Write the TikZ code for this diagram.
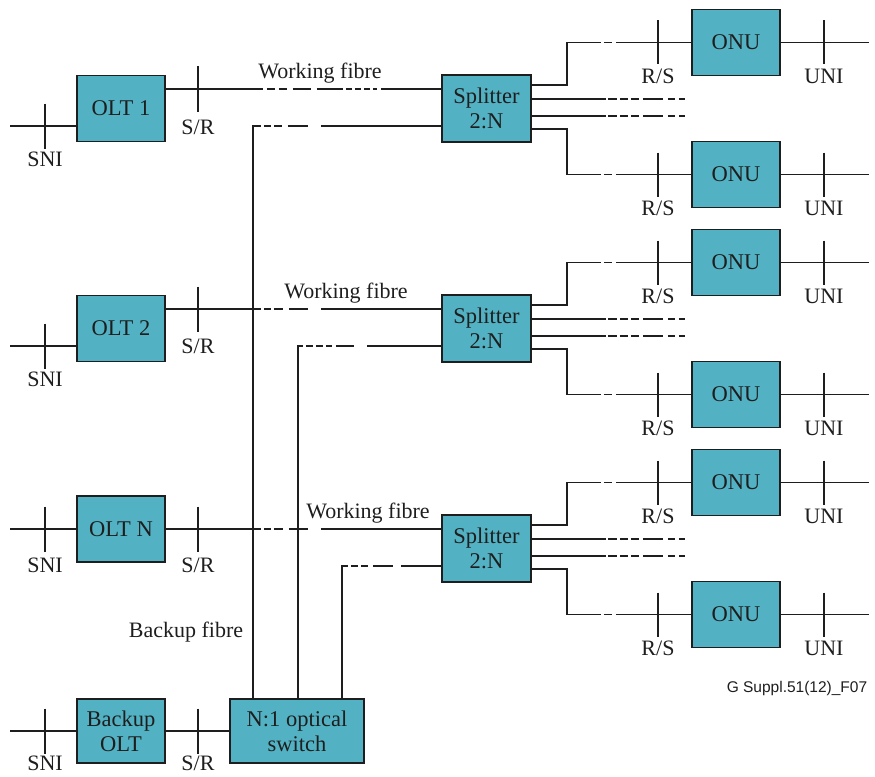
\documentclass[tikz,border=0pt]{standalone}
\usepackage{fontspec}
\setmainfont{Liberation Serif}
\newfontfamily\labsans{Liberation Sans}
\definecolor{boxfill}{RGB}{82,178,196}
\definecolor{ink}{RGB}{30,30,30}
\begin{document}
\begin{tikzpicture}[x=1pt,y=-1pt,
  box/.style={draw=ink, line width=1.8pt, fill=boxfill, inner sep=0pt, align=center,
    font=\fontsize{22.5}{25}\selectfont, text=ink, minimum width=88pt, minimum height=66pt},
  ln/.style={draw=ink, line width=1.4pt},
  lbl/.style={font=\fontsize{22}{24}\selectfont, inner sep=0pt, text=ink},
  wfa/.style={dash pattern=on 97pt off 4pt on 8pt off 4pt on 8pt off 6pt on 18pt off 6pt on 26pt off 3pt on 6pt off 3pt on 6pt off 3pt on 6pt off 3pt on 4pt off 4pt on 300pt},
  wfb/.style={dash pattern=on 95pt off 3pt on 7pt off 3pt on 9pt off 6pt on 19pt off 13pt on 300pt},
  bka/.style={dash pattern=on 580pt off 3pt on 7pt off 3pt on 8pt off 6pt on 20pt off 13pt on 300pt},
  bkb/.style={dash pattern=on 357pt off 3pt on 7pt off 3pt on 7pt off 3pt on 6pt off 4pt on 18pt off 13pt on 300pt},
  bkc/.style={dash pattern=on 138pt off 3pt on 7pt off 3pt on 7pt off 5pt on 20pt off 8pt on 300pt},
  mid/.style={dash pattern=on 74pt off 2pt on 9pt off 3pt on 8pt off 3pt on 8pt off 4pt on 20pt off 5pt on 7pt off 4pt on 7pt off 60pt},
  tick/.style={draw=ink, line width=1.4pt}]
\useasboundingbox (0,0) rectangle (875,776);

% boxes
\node[box] (olt1) at (121,108.5) {OLT 1};
\node[box] (olt2) at (121,328.5) {OLT 2};
\node[box] (oltn) at (121,529) {OLT N};
\node[box, minimum height=64pt] (bolt) at (121,731) {Backup\\OLT};
\node[box, minimum width=134pt, minimum height=64pt] (sw) at (297,731) {N:1 optical\\switch};
\node[box, minimum width=89pt, minimum height=67pt] (spl1) at (486.5,108.5) {Splitter\\2:N};
\node[box, minimum width=89pt, minimum height=67pt] (spl2) at (486.5,328.5) {Splitter\\2:N};
\node[box, minimum width=89pt, minimum height=67pt] (spl3) at (486.5,548.5) {Splitter\\2:N};
\node[box] (onu1) at (736,42.5) {ONU};
\node[box] (onu2) at (736,174.5) {ONU};
\node[box] (onu3) at (736,262.5) {ONU};
\node[box] (onu4) at (736,394.5) {ONU};
\node[box] (onu5) at (736,482.5) {ONU};
\node[box] (onu6) at (736,614.5) {ONU};

% free-end x positions
\coordinate (xL) at (10,0);
\coordinate (xR) at (869,0);
\coordinate (xM) at (685,0);

% OLT side connectors
\coordinate (o1s) at ([yshift=-17.5pt]olt1.west);
\coordinate (o2s) at ([yshift=-17.5pt]olt2.west);
\coordinate (o1w) at ([yshift=19.5pt]olt1.east);
\coordinate (o2w) at ([yshift=19.5pt]olt2.east);
\draw[ln] (o1s -| xL) -- (o1s);
\draw[ln] (o2s -| xL) -- (o2s);
\draw[ln] (oltn.west -| xL) -- (oltn.west);
\draw[ln] (bolt.west -| xL) -- (bolt.west);
\draw[ln, wfa] (o1w) -- (o1w -| spl1.west);
\draw[ln, wfb] (o2w) -- (o2w -| spl2.west);
\draw[ln, wfb] (oltn.east) -- (oltn.east -| spl3.west);
\draw[ln] (bolt.east) -- (sw.west);

% backup fibres
\draw[ln, bka] ([xshift=-44pt]sw.north) |- ([yshift=-17.5pt]spl1.west);
\draw[ln, bkb] ([xshift=1pt]sw.north) |- ([yshift=-17.5pt]spl2.west);
\draw[ln, bkc] ([xshift=45pt]sw.north) |- ([yshift=-17.5pt]spl3.west);

% splitter outputs
\foreach \i/\a/\b in {1/onu1/onu2, 2/onu3/onu4, 3/onu5/onu6}{
  \coordinate (s\i t) at ([yshift=23.5pt]spl\i.east);
  \coordinate (s\i b) at ([yshift=-20.5pt]spl\i.east);
  \coordinate (s\i m) at ([yshift=9.5pt]spl\i.east);
  \coordinate (s\i n) at ([yshift=-7.5pt]spl\i.east);
  \draw[ln, dash pattern=on 112pt off 3pt on 8pt off 4pt on 300pt] (s\i t) -- ++(35,0) |- (\a.west);
  \draw[ln, dash pattern=on 114.5pt off 3pt on 8pt off 4pt on 300pt] (s\i b) -- ++(35,0) |- (\b.west);
  \draw[ln, mid] (s\i m) -- (s\i m -| xM);
  \draw[ln, mid] (s\i n) -- (s\i n -| xM);
}
\foreach \o in {onu1,onu2,onu3,onu4,onu5,onu6}{
  \draw[ln] (\o.east) -- (\o.east -| xR);
}

% reference point ticks
\foreach \x/\y in {45/126, 198/89, 45/346, 198/309, 45/529, 198/529, 45/731, 198/731}{
  \draw[tick] (\x,\y-22.5) -- (\x,\y+22.5);
}
\foreach \c in {42.5,174.5,262.5,394.5,482.5,614.5}{
  \draw[tick] (658,\c-22) -- (658,\c+22);
  \draw[tick] (824,\c-22) -- (824,\c+22);
  \node[lbl] at (658,\c+34) {R/S};
  \node[lbl] at (824,\c+34) {UNI};
}

% labels
\node[lbl] at (45,159.5) {SNI};
\node[lbl] at (198,127) {S/R};
\node[lbl] at (45,379) {SNI};
\node[lbl] at (198,346) {S/R};
\node[lbl] at (45,565) {SNI};
\node[lbl] at (198,565) {S/R};
\node[lbl] at (45,763) {SNI};
\node[lbl] at (198,763) {S/R};
\node[lbl] at (320,73) {Working fibre};
\node[lbl] at (346,293) {Working fibre};
\node[lbl] at (368,513) {Working fibre};
\node[lbl] at (186,632) {Backup fibre};
\node[font=\labsans\fontsize{15.5}{17}\selectfont, inner sep=0pt, text=ink] at (797,688) {G Suppl.51(12)\_F07};
\end{tikzpicture}
\end{document}
